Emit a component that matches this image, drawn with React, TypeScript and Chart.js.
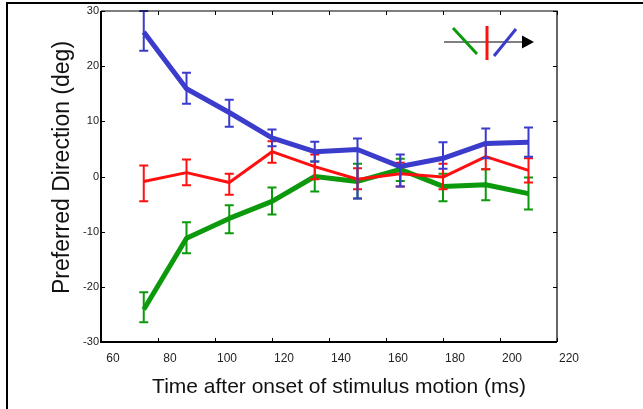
import React, { useEffect, useRef } from 'react';
import { Chart, registerables } from 'chart.js';

Chart.register(...registerables);

// ---- data ----
const times = [75, 90, 105, 120, 135, 150, 165, 180, 195, 210];

const blueValues = [26.2, 15.9, 11.6, 7.0, 4.5, 4.9, 1.8, 3.3, 6.0, 6.2];
const blueUpper = [30.0, 18.8, 13.9, 8.5, 6.3, 6.9, 4.0, 6.2, 8.7, 8.9];
const blueLower = [22.8, 13.2, 9.0, 5.5, 2.7, -4.0, -1.8, 1.4, 3.3, 3.6];

const redValues = [-0.9, 0.7, -1.1, 4.5, 1.8, -0.5, 0.5, -0.1, 3.6, 1.1];
const redUpper = [2.0, 3.1, 0.5, 6.4, 4.0, 1.5, 2.5, 2.3, 5.8, 3.3];
const redLower = [-4.5, -1.6, -3.3, 2.5, -0.5, -2.3, -1.8, -2.3, 1.3, -1.1];

const greenValues = [-24.1, -11.2, -7.6, -4.5, 0.0, -0.9, 1.3, -1.8, -1.5, -3.1];
const greenUpper = [-21.0, -8.3, -5.2, -2.0, 2.7, 2.3, 3.2, 0.5, 1.3, -0.2];
const greenLower = [-26.4, -13.9, -10.3, -6.9, -2.7, -4.0, -0.8, -4.5, -4.3, -6.0];

const xTicks = [60, 80, 100, 120, 140, 160, 180, 200, 220];
const yTicks = [-30, -20, -10, 0, 10, 20, 30];

const xTitle = 'Time after onset of stimulus motion (ms)';
const yTitle = 'Preferred Direction (deg)';

const BLUE = '#3b3bcc';
const RED = '#ff1010';
const GREEN = '#0c9a0c';
const FONT = "'Liberation Sans', Arial, sans-serif";

const errorBarsPlugin = {
  id: 'errorBars',
  afterDatasetDraw(chart: any, args: any) {
    const ds = chart.data.datasets[args.index];
    if (!ds.upper) return;
    const { ctx, scales } = chart;
    const x = scales.x;
    const y = scales.y;
    ctx.save();
    ctx.strokeStyle = ds.borderColor;
    ctx.lineWidth = 2;
    const cap = 4.5;
    ds.data.forEach((pt: any, i: number) => {
      const px = x.getPixelForValue(pt.x);
      const pu = y.getPixelForValue(ds.upper[i]);
      const pl = y.getPixelForValue(ds.lower[i]);
      ctx.beginPath();
      ctx.moveTo(px, pu);
      ctx.lineTo(px, pl);
      ctx.moveTo(px - cap, pu);
      ctx.lineTo(px + cap, pu);
      ctx.moveTo(px - cap, pl);
      ctx.lineTo(px + cap, pl);
      ctx.stroke();
    });
    ctx.restore();
  },
};

const framePlugin = {
  id: 'frame',
  afterDraw(chart: any) {
    const { ctx, chartArea: ca, scales } = chart;
    const x = scales.x;
    const y = scales.y;
    ctx.save();
    // outer figure frame (top and left edges)
    ctx.strokeStyle = '#000';
    ctx.lineWidth = 2;
    ctx.beginPath();
    ctx.moveTo(7, chart.height);
    ctx.lineTo(7, 3);
    ctx.lineTo(chart.width, 3);
    ctx.stroke();

    // axes box
    ctx.lineWidth = 1.2;
    ctx.beginPath();
    ctx.moveTo(ca.left, ca.top);
    ctx.lineTo(ca.right, ca.top);
    ctx.lineTo(ca.right, ca.bottom);
    ctx.stroke();
    ctx.lineWidth = 2;
    ctx.beginPath();
    ctx.moveTo(ca.left, ca.top);
    ctx.lineTo(ca.left, ca.bottom);
    ctx.lineTo(ca.right, ca.bottom);
    ctx.stroke();

    // inward ticks
    ctx.lineWidth = 1;
    const tl = 4;
    ctx.beginPath();
    xTicks.forEach((v) => {
      const px = Math.round(x.getPixelForValue(v)) + 0.5;
      ctx.moveTo(px, ca.bottom);
      ctx.lineTo(px, ca.bottom - tl);
      ctx.moveTo(px, ca.top);
      ctx.lineTo(px, ca.top + tl);
    });
    yTicks.forEach((v) => {
      const py = Math.round(y.getPixelForValue(v)) + 0.5;
      ctx.moveTo(ca.left, py);
      ctx.lineTo(ca.left + tl, py);
      ctx.moveTo(ca.right, py);
      ctx.lineTo(ca.right - tl, py);
    });
    ctx.stroke();

    // direction glyph (top right)
    const R = ca.right;
    const T = ca.top;
    ctx.lineCap = 'butt';
    ctx.strokeStyle = '#555';
    ctx.lineWidth = 1.5;
    ctx.beginPath();
    ctx.moveTo(R - 113, T + 31);
    ctx.lineTo(R - 34, T + 31);
    ctx.stroke();
    ctx.lineWidth = 3;
    ctx.strokeStyle = GREEN;
    ctx.beginPath();
    ctx.moveTo(R - 104, T + 17);
    ctx.lineTo(R - 80, T + 43);
    ctx.stroke();
    ctx.strokeStyle = RED;
    ctx.beginPath();
    ctx.moveTo(R - 70, T + 15);
    ctx.lineTo(R - 70, T + 49);
    ctx.stroke();
    ctx.strokeStyle = BLUE;
    ctx.beginPath();
    ctx.moveTo(R - 63, T + 45);
    ctx.lineTo(R - 41, T + 18);
    ctx.stroke();
    ctx.fillStyle = '#000';
    ctx.beginPath();
    ctx.moveTo(R - 35, T + 24.5);
    ctx.lineTo(R - 23, T + 31);
    ctx.lineTo(R - 35, T + 37.5);
    ctx.closePath();
    ctx.fill();

    // axis titles
    ctx.fillStyle = '#111';
    ctx.textAlign = 'center';
    ctx.textBaseline = 'middle';
    ctx.font = `21px ${FONT}`;
    ctx.fillText(xTitle, (ca.left + ca.right) / 2 + 10, ca.bottom + 45);
    ctx.save();
    ctx.translate(ca.left - 38, (ca.top + ca.bottom) / 2 - 9);
    ctx.rotate(-Math.PI / 2);
    ctx.font = `23px ${FONT}`;
    ctx.fillText(yTitle, 0, 0);
    ctx.restore();

    ctx.restore();
  },
};

export default function App() {
  const ref = useRef<HTMLCanvasElement | null>(null);

  useEffect(() => {
    if (!ref.current) return;
    const mk = (vals: number[]) => vals.map((v, i) => ({ x: times[i], y: v }));
    const chart = new Chart(ref.current, {
      type: 'line',
      data: {
        datasets: [
          {
            label: 'blue',
            data: mk(blueValues),
            upper: blueUpper,
            lower: blueLower,
            borderColor: BLUE,
            borderWidth: 5,
            pointRadius: 0,
            tension: 0,
            borderJoinStyle: 'round',
          } as any,
          {
            label: 'red',
            data: mk(redValues),
            upper: redUpper,
            lower: redLower,
            borderColor: RED,
            borderWidth: 3,
            pointRadius: 0,
            tension: 0,
            borderJoinStyle: 'round',
          } as any,
          {
            label: 'green',
            data: mk(greenValues),
            upper: greenUpper,
            lower: greenLower,
            borderColor: GREEN,
            borderWidth: 5,
            pointRadius: 0,
            tension: 0,
            borderJoinStyle: 'round',
          } as any,
        ],
      },
      options: {
        animation: false,
        responsive: false,
        maintainAspectRatio: false,
        layout: { padding: { top: 11, right: 86, left: 0, bottom: 0 } },
        plugins: { legend: { display: false }, tooltip: { enabled: false } },
        scales: {
          x: {
            type: 'linear',
            min: 60,
            max: 220,
            afterBuildTicks: (s: any) => {
              s.ticks = xTicks.map((v) => ({ value: v }));
            },
            afterFit: (s: any) => {
              s.height = 67;
            },
            grid: { display: false, drawTicks: false },
            border: { display: false },
            ticks: {
              labelOffset: 12,
              padding: 9,
              maxRotation: 0,
              autoSkip: false,
              color: '#222',
              font: { family: FONT, size: 12 },
            },
          },
          y: {
            type: 'linear',
            min: -30,
            max: 30,
            afterBuildTicks: (s: any) => {
              s.ticks = yTicks.map((v) => ({ value: v }));
            },
            afterFit: (s: any) => {
              s.width = 101;
            },
            grid: { display: false, drawTicks: false },
            border: { display: false },
            ticks: {
              padding: 2,
              autoSkip: false,
              color: '#222',
              font: { family: FONT, size: 11 },
            },
          },
        },
      } as any,
      plugins: [errorBarsPlugin, framePlugin],
    });
    return () => chart.destroy();
  }, []);

  return (
    <div style={{ position: 'fixed', left: 0, top: 0, width: 643, height: 409, background: '#fff' }}>
      <canvas ref={ref} width={643} height={409} style={{ display: 'block' }} />
    </div>
  );
}
